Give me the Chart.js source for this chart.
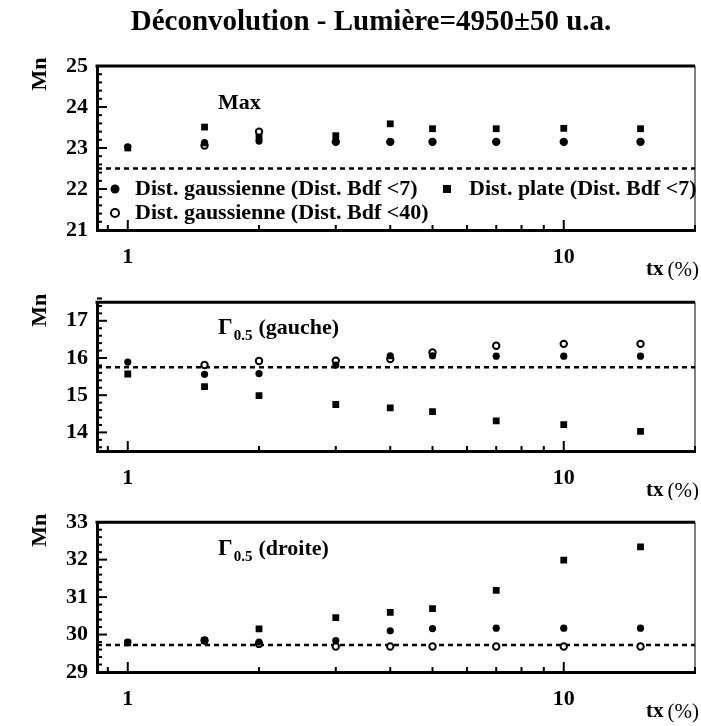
<!DOCTYPE html>
<html>
<head>
<meta charset="utf-8">
<script src="https://cdn.jsdelivr.net/npm/chart.js@4/dist/chart.umd.min.js"></script>
<style>
  body { margin: 0; background: #fff; }
  #page { position: relative; width: 701px; height: 726px; }
  #page canvas { position: absolute; left: 0; }
</style>
</head>
<body>
<div id="page">
  <canvas id="pMax" width="701" height="280" style="top:0"></canvas>
  <canvas id="pGauche" width="701" height="220" style="top:280px"></canvas>
  <canvas id="pDroite" width="701" height="226" style="top:500px"></canvas>
</div>
<script>
/* Déconvolution : Mn en fonction du taux tx (%) pour Max, Γ0.5 gauche et droite */

var tauxX = [1, 1.5, 2, 3, 4, 5, 7, 10, 15];
var xMin = 0.85, xMax = 20;
var xLabels = [1, 10];
var xGrad = [0.9, 1, 2, 3, 4, 5, 6, 7, 8, 9, 10, 20];

// Max
var maxGauss7  = [23.03, 23.13, 23.17, 23.15, 23.15, 23.15, 23.15, 23.15, 23.15];
var maxGauss40 = [null, 23.06, 23.40, 23.15, 23.15, 23.15, 23.15, 23.15, 23.15];
var maxPlate7  = [23.00, 23.51, 23.28, 23.30, 23.59, 23.47, 23.47, 23.48, 23.47];
var maxRef = 22.5;
var maxTicks = [21, 22, 23, 24, 25];

// Gamma 0.5 gauche
var gaucheGauss7  = [15.89, 15.56, 15.58, 15.81, 16.06, 16.06, 16.05, 16.05, 16.05];
var gaucheGauss40 = [null, 15.81, 15.92, 15.93, 15.97, 16.15, 16.33, 16.38, 16.38];
var gauchePlate7  = [15.57, 15.23, 14.99, 14.75, 14.66, 14.56, 14.31, 14.21, 14.03];
var gaucheRef = 15.75;
var gaucheTicks = [14, 15, 16, 17];

// Gamma 0.5 droite
var droiteGauss7  = [29.80, 29.84, 29.80, 29.84, 30.10, 30.16, 30.17, 30.17, 30.17];
var droiteGauss40 = [null, 29.84, 29.75, 29.68, 29.68, 29.68, 29.68, 29.68, 29.68];
var droitePlate7  = [29.78, 29.84, 30.15, 30.45, 30.59, 30.69, 31.18, 31.99, 32.34];
var droiteRef = 29.72;
var droiteTicks = [29, 30, 31, 32, 33];

var SERIF = '"Liberation Serif", "Times New Roman", serif';

function points(serie) {
  var pts = [];
  for (var i = 0; i < tauxX.length; i++) {
    if (serie[i] !== null) pts.push({ x: tauxX[i], y: serie[i] });
  }
  return pts;
}

function trait(ctx, x1, y1, x2, y2) {
  ctx.beginPath();
  ctx.moveTo(x1, y1);
  ctx.lineTo(x2, y2);
  ctx.stroke();
}

// cadre, graduations internes et textes du panneau
function decor(cfg) {
  return {
    id: 'decor',
    afterDraw: function(chart) {
      var ctx = chart.ctx, a = chart.chartArea;
      var sx = chart.scales.x, sy = chart.scales.y;
      ctx.save();
      ctx.strokeStyle = '#000';
      ctx.fillStyle = '#000';

      ctx.lineWidth = 3;
      trait(ctx, a.left - 1.5, a.top, a.right, a.top);
      ctx.lineWidth = 1;
      trait(ctx, a.right, a.top, a.right, a.bottom);

      // graduations y tous les 0.2
      ctx.lineWidth = 2;
      for (var k = Math.round(cfg.ymin * 5); k <= Math.round(cfg.ymax * 5); k++) {
        var v = k / 5;
        var py = sy.getPixelForValue(v);
        var major = (k % 5 === 0);
        trait(ctx, a.left, py, a.left + (major ? 10 : 5), py);
      }
      // graduations x
      xGrad.forEach(function(v) {
        var px = sx.getPixelForValue(v);
        var major = (v === 1 || v === 10);
        trait(ctx, px, a.bottom, px, a.bottom - (major ? 10 : 5));
      });

      // titre d'axe y
      ctx.save();
      ctx.translate(40, a.top + 8);
      ctx.rotate(-Math.PI / 2);
      ctx.font = 'bold 22px ' + SERIF;
      ctx.textAlign = 'center';
      ctx.textBaseline = 'middle';
      ctx.fillText('Mn', 0, 0);
      ctx.restore();

      // titre d'axe x
      ctx.textBaseline = 'middle';
      ctx.textAlign = 'right';
      ctx.font = '21px ' + SERIF;
      var wPct = ctx.measureText('(%)').width;
      ctx.fillText('(%)', 699, a.bottom + 40);
      ctx.font = 'bold 21px ' + SERIF;
      ctx.fillText('tx', 699 - wPct - 4, a.bottom + 40);

      // étiquette du panneau
      ctx.textAlign = 'left';
      var lx = 218, ly = a.top + cfg.labelDy;
      if (cfg.gamma) {
        ctx.font = 'bold 23px ' + SERIF;
        ctx.fillText('\u0393', lx, ly);
        var wG = ctx.measureText('\u0393').width;
        ctx.font = 'bold 15px ' + SERIF;
        ctx.fillText('0.5', lx + wG + 1, ly + 8);
        var w5 = ctx.measureText('0.5').width;
        ctx.font = 'bold 22px ' + SERIF;
        ctx.fillText(cfg.label, lx + wG + w5 + 7, ly);
      } else {
        ctx.font = 'bold 22px ' + SERIF;
        ctx.fillText(cfg.label, lx, ly);
      }

      if (cfg.legende) {
        var y1 = sy.getPixelForValue(22), y2 = y1 + 24;
        ctx.font = 'bold 22px ' + SERIF;
        ctx.beginPath(); ctx.arc(115, y1, 4.5, 0, 2 * Math.PI); ctx.fill();
        ctx.fillText('Dist. gaussienne (Dist. Bdf <7)', 135, y1);
        ctx.fillRect(443, y1 - 4, 8, 8);
        ctx.fillText('Dist. plate (Dist. Bdf <7)', 469, y1);
        ctx.lineWidth = 2;
        ctx.beginPath(); ctx.arc(115, y2, 4, 0, 2 * Math.PI); ctx.stroke();
        ctx.fillText('Dist. gaussienne (Dist. Bdf <40)', 135, y2);
      }
      ctx.restore();
    }
  };
}

function panneau(id, cfg) {
  return new Chart(document.getElementById(id), {
    type: 'scatter',
    data: {
      datasets: [
        { data: [{ x: xMin, y: cfg.ref }, { x: xMax, y: cfg.ref }], showLine: true,
          borderColor: '#000', borderWidth: 2.5, borderDash: [5, 4], pointRadius: 0, order: 10 },
        { data: points(cfg.plate), pointStyle: 'rect', pointRadius: 4.8,
          backgroundColor: '#000', borderWidth: 0, order: 3 },
        { data: points(cfg.gauss40), pointStyle: 'circle', pointRadius: 3.2,
          backgroundColor: '#fff', borderColor: '#000', borderWidth: 2, order: 2 },
        { data: points(cfg.gauss7), pointStyle: 'circle', pointRadius: 3.6,
          backgroundColor: '#000', borderWidth: 0, order: 1 }
      ]
    },
    options: {
      responsive: false,
      animation: false,
      devicePixelRatio: 1,
      layout: { padding: { top: cfg.top, left: 0, right: 2, bottom: 0 } },
      plugins: { legend: { display: false }, tooltip: { enabled: false } },
      scales: {
        x: {
          type: 'logarithmic', min: xMin, max: xMax,
          grid: { display: false, drawTicks: false },
          border: { color: '#000', width: 3 },
          afterBuildTicks: function(s) { s.ticks = xLabels.map(function(v) { return { value: v }; }); },
          afterFit: function(s) { s.height = cfg.xh; },
          ticks: { autoSkip: false, maxRotation: 0, padding: 14, color: '#000',
                   font: { family: SERIF, weight: 'bold', size: 22 },
                   callback: function(v) { return String(v); } }
        },
        y: {
          min: cfg.ymin, max: cfg.ymax,
          grid: { display: false, drawTicks: false },
          border: { color: '#000', width: 3 },
          afterBuildTicks: function(s) { s.ticks = cfg.yTicks.map(function(v) { return { value: v }; }); },
          afterFit: function(s) { s.width = 97; },
          ticks: { autoSkip: false, padding: 9, color: '#000',
                   font: { family: SERIF, weight: 'bold', size: 22 } }
        }
      }
    },
    plugins: [decor(cfg), {
      id: 'titre',
      afterDraw: function(chart) {
        if (!cfg.titre) return;
        var ctx = chart.ctx;
        ctx.save();
        ctx.font = 'bold 29px ' + SERIF;
        ctx.textAlign = 'center';
        ctx.textBaseline = 'middle';
        ctx.fillStyle = '#000';
        ctx.fillText(cfg.titre, 371, 23);
        ctx.restore();
      }
    }]
  });
}

panneau('pMax', {
  titre: 'D\u00e9convolution - Lumi\u00e8re=4950\u00b150 u.a.',
  top: 66, xh: 50, ymin: 21, ymax: 25, yTicks: maxTicks, ref: maxRef,
  gauss7: maxGauss7, gauss40: maxGauss40, plate: maxPlate7,
  label: 'Max', labelDy: 37, legende: true
});
panneau('pGauche', {
  top: 7, xh: 49, ymin: 13.5, ymax: 17.5, yTicks: gaucheTicks, ref: gaucheRef,
  gauss7: gaucheGauss7, gauss40: gaucheGauss40, plate: gauchePlate7,
  label: '(gauche)', gamma: true, labelDy: 26
});
panneau('pDroite', {
  top: 7, xh: 54, ymin: 29, ymax: 33, yTicks: droiteTicks, ref: droiteRef,
  gauss7: droiteGauss7, gauss40: droiteGauss40, plate: droitePlate7,
  label: '(droite)', gamma: true, labelDy: 27
});
</script>
</body>
</html>
